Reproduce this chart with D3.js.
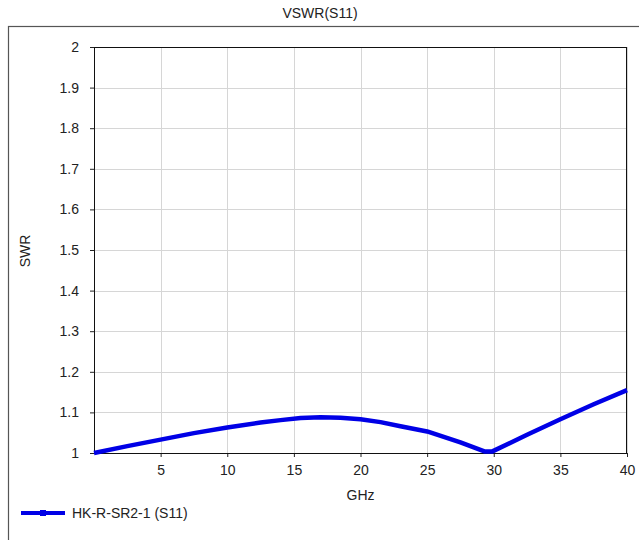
<!DOCTYPE html>
<html><head><meta charset="utf-8">
<script src="https://cdn.jsdelivr.net/npm/d3@7"></script>
<style>
html,body{margin:0;padding:0;background:#fff;}
svg{display:block;font-family:"Liberation Sans",Arial,sans-serif;}
</style></head>
<body><svg id="c" width="639" height="540"></svg>
<script>
const title = "VSWR(S11)";
const xLabel = "GHz";
const yLabel = "SWR";
const seriesName = "HK-R-SR2-1 (S11)";
const freq = [0, 2.5, 5, 7.5, 10, 12.5, 14, 15.5, 17, 18.5, 20, 21.5, 23, 25, 27.5, 29.3, 29.9, 32.5, 35, 37.5, 40];
const swr  = [1.0, 1.017, 1.033, 1.049, 1.063, 1.075, 1.081, 1.086, 1.088, 1.087, 1.083, 1.076, 1.066, 1.053, 1.026, 1.004, 1.004, 1.045, 1.083, 1.12, 1.155];
const xTicks = [5, 10, 15, 20, 25, 30, 35, 40];
const yTicks = [1, 1.1, 1.2, 1.3, 1.4, 1.5, 1.6, 1.7, 1.8, 1.9, 2];

const svg = d3.select("#c");
const L = 94, R = 627, T = 47, B = 453;
const x = d3.scaleLinear().domain([0, 40]).range([L, R]);
const y = d3.scaleLinear().domain([1, 2]).range([B, T]);

// outer frame
svg.append("rect").attr("x", 8.5).attr("y", 26.5).attr("width", 700).attr("height", 600)
  .attr("fill", "none").attr("stroke", "#555").attr("stroke-width", 1.2);

svg.append("text").attr("x", 320).attr("y", 18).attr("text-anchor", "middle")
  .attr("font-size", 14).attr("fill", "#222").text(title);

// grid
svg.append("g").selectAll("line").data(xTicks).join("line")
  .attr("x1", d => Math.round(x(d)) + 0.5).attr("x2", d => Math.round(x(d)) + 0.5)
  .attr("y1", T).attr("y2", B).attr("stroke", "#d6d6d6");
svg.append("g").selectAll("line").data(yTicks).join("line")
  .attr("y1", d => Math.round(y(d)) + 0.5).attr("y2", d => Math.round(y(d)) + 0.5)
  .attr("x1", L).attr("x2", R).attr("stroke", "#d6d6d6");

// axes
const xAxis = d3.axisBottom(x).tickValues(xTicks).tickSize(4).tickPadding(8).tickFormat(d3.format("d"));
const gx = svg.append("g").attr("transform", `translate(0,${B})`).call(xAxis);
const yAxis = d3.axisLeft(y).tickValues(yTicks).tickSize(4).tickPadding(11).tickFormat(d => d === 1 || d === 2 ? d3.format("d")(d) : d3.format(".1f")(d));
const gy = svg.append("g").attr("transform", `translate(${L},0)`).call(yAxis);
[gx, gy].forEach(g => {
  g.select(".domain").remove();
  g.selectAll("text").attr("font-size", 14).attr("fill", "#222").attr("font-family", "Liberation Sans, Arial, sans-serif");
  g.selectAll("line").attr("stroke", "#222");
});

// plot border
svg.append("rect").attr("x", L + 0.5).attr("y", T + 0.5).attr("width", R - L - 1).attr("height", B - T)
  .attr("fill", "none").attr("stroke", "#111").attr("stroke-width", 1);

// line
const line = d3.line().x((d, i) => x(freq[i])).y(d => y(d)).curve(d3.curveLinear);
svg.append("path").datum(swr).attr("d", line).attr("fill", "none")
  .attr("stroke", "#0000e6").attr("stroke-width", 4.5).attr("stroke-linejoin", "round");

// axis labels
svg.append("text").attr("x", (L + R) / 2).attr("y", 500).attr("text-anchor", "middle")
  .attr("font-size", 14).attr("fill", "#222").text(xLabel);
svg.append("text").attr("transform", "translate(30,251) rotate(-90)").attr("text-anchor", "middle")
  .attr("font-size", 14).attr("fill", "#222").text(yLabel);

// legend
svg.append("line").attr("x1", 21).attr("x2", 65).attr("y1", 513).attr("y2", 513)
  .attr("stroke", "#0000e6").attr("stroke-width", 4);
svg.append("rect").attr("x", 40).attr("y", 510).attr("width", 6).attr("height", 6).attr("fill", "#0000e6");
svg.append("text").attr("x", 72).attr("y", 518).attr("font-size", 14).attr("fill", "#222").text(seriesName);
</script></body></html>
